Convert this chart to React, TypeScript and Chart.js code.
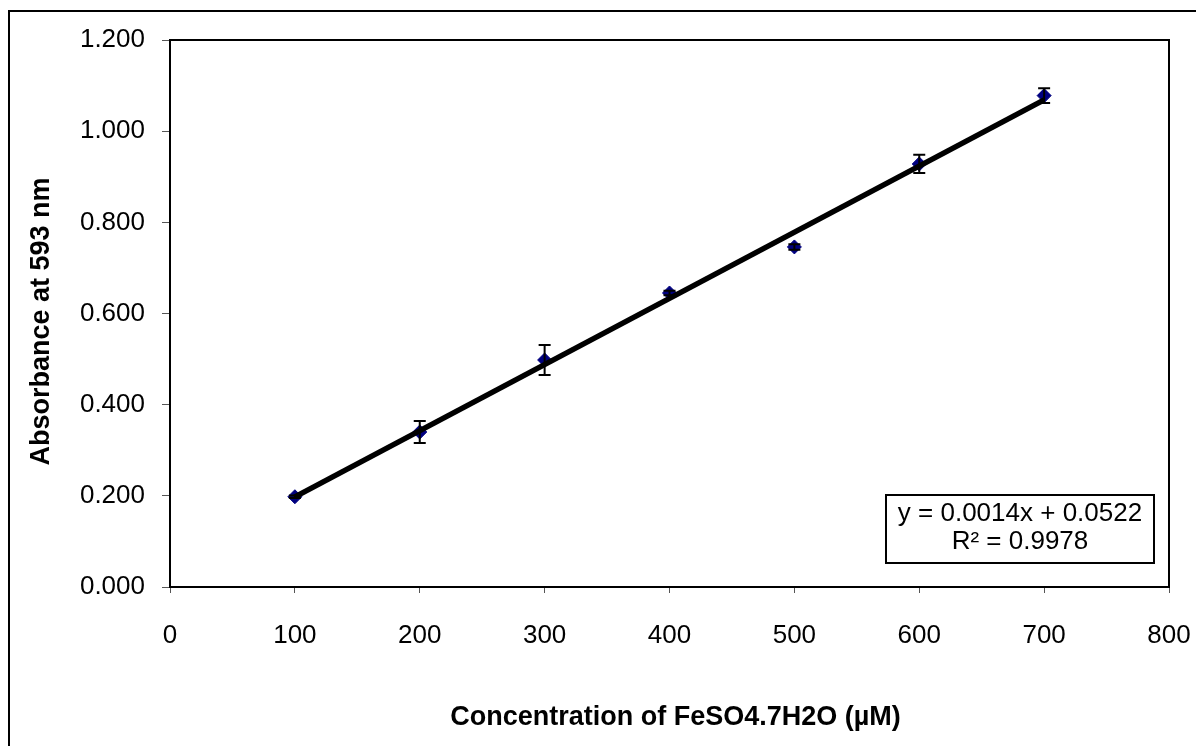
import React, { useEffect, useRef } from "react";
import { Chart, registerables } from "chart.js";

Chart.register(...registerables);

const concentrations = [100, 200, 300, 400, 500, 600, 700];
const absorbance = [0.198, 0.34, 0.498, 0.645, 0.746, 0.928, 1.078];
const errorValues = [0.003, 0.024, 0.033, 0.005, 0.006, 0.02, 0.016];
const equationLines = ["y = 0.0014x + 0.0522", "R\u00B2 = 0.9978"];
const xTitle = "Concentration of FeSO4.7H2O (\u00B5M)";
const yTitle = "Absorbance at 593 nm";

const FONT = "'Liberation Sans', Arial, Helvetica, sans-serif";

function regression(xs: number[], ys: number[]) {
  const n = xs.length;
  const mx = xs.reduce((a, b) => a + b, 0) / n;
  const my = ys.reduce((a, b) => a + b, 0) / n;
  let sxy = 0;
  let sxx = 0;
  for (let i = 0; i < n; i++) {
    sxy += (xs[i] - mx) * (ys[i] - my);
    sxx += (xs[i] - mx) * (xs[i] - mx);
  }
  const slope = sxy / sxx;
  return { slope, intercept: my - slope * mx };
}

const decorPlugin = {
  id: "decor",
  beforeDraw(chart: any) {
    const ctx = chart.ctx;
    ctx.save();
    ctx.fillStyle = "#fff";
    ctx.fillRect(0, 0, chart.width, chart.height);
    ctx.strokeStyle = "#000";
    ctx.lineWidth = 2;
    ctx.beginPath();
    ctx.moveTo(1, chart.height + 10);
    ctx.lineTo(1, 3);
    ctx.lineTo(chart.width + 10, 3);
    ctx.stroke();
    ctx.restore();
  },
  afterDatasetsDraw(chart: any) {
    const ctx = chart.ctx;
    const xs = chart.scales.x;
    const ys = chart.scales.y;
    const area = chart.chartArea;
    ctx.save();
    // error bars
    ctx.strokeStyle = "#000";
    ctx.lineWidth = 2;
    concentrations.forEach((c, i) => {
      const px = xs.getPixelForValue(c);
      const top = ys.getPixelForValue(absorbance[i] + errorValues[i]);
      const bot = ys.getPixelForValue(absorbance[i] - errorValues[i]);
      ctx.beginPath();
      ctx.moveTo(px, top);
      ctx.lineTo(px, bot);
      ctx.moveTo(px - 6, top);
      ctx.lineTo(px + 6, top);
      ctx.moveTo(px - 6, bot);
      ctx.lineTo(px + 6, bot);
      ctx.stroke();
    });
    // plot frame
    ctx.lineWidth = 2;
    ctx.strokeRect(area.left, area.top, area.right - area.left, area.bottom - area.top);
    // equation box
    const bw = 268;
    const bh = 68;
    const bx = area.right - 15 - bw;
    const by = area.bottom - 24 - bh;
    ctx.fillStyle = "#fff";
    ctx.fillRect(bx, by, bw, bh);
    ctx.lineWidth = 2;
    ctx.strokeRect(bx, by, bw, bh);
    ctx.fillStyle = "#000";
    ctx.font = `26px ${FONT}`;
    ctx.textAlign = "center";
    ctx.textBaseline = "middle";
    ctx.fillText(equationLines[0], bx + bw / 2, by + 19);
    ctx.fillText(equationLines[1], bx + bw / 2, by + 47);
    // axis titles
    ctx.font = `bold 27px ${FONT}`;
    ctx.fillText(xTitle, (area.left + area.right) / 2 + 6, 710);
    ctx.save();
    ctx.translate(34, (area.top + area.bottom) / 2 + 8);
    ctx.rotate(-Math.PI / 2);
    ctx.fillText(yTitle, 0, 0);
    ctx.restore();
    ctx.restore();
  },
};

export default function App() {
  const ref = useRef<HTMLCanvasElement | null>(null);
  useEffect(() => {
    if (!ref.current) return;
    const { slope, intercept } = regression(concentrations, absorbance);
    const x0 = concentrations[0];
    const x1 = concentrations[concentrations.length - 1];
    const chart = new Chart(ref.current, {
      type: "scatter",
      data: {
        datasets: [
          {
            type: "line",
            label: "Linear",
            data: [
              { x: x0, y: slope * x0 + intercept },
              { x: x1, y: slope * x1 + intercept },
            ],
            borderColor: "#000",
            borderWidth: 5.5,
            pointRadius: 0,
            fill: false,
            order: 0,
          } as any,
          {
            label: "Absorbance",
            data: concentrations.map((c, i) => ({ x: c, y: absorbance[i] })),
            pointStyle: "rectRot",
            pointRadius: 7,
            backgroundColor: "#000080",
            borderColor: "#000080",
            borderWidth: 1,
            order: 1,
          },
        ],
      },
      options: {
        animation: false,
        responsive: false,
        maintainAspectRatio: false,
        layout: { padding: { top: 32, right: 35, left: 0, bottom: 0 } },
        plugins: { legend: { display: false }, tooltip: { enabled: false } },
        scales: {
          x: {
            type: "linear",
            min: 0,
            max: 800,
            afterFit: (s: any) => {
              s.height = 159;
              s.paddingLeft = 0;
              s.paddingRight = 0;
            },
            ticks: {
              stepSize: 100,
              color: "#000",
              padding: 27,
              font: { size: 26, family: FONT },
              maxRotation: 0,
            },
            grid: { drawOnChartArea: false, drawTicks: true, tickLength: 6, color: "#555", lineWidth: 1 },
            border: { display: false },
          },
          y: {
            type: "linear",
            min: 0,
            max: 1.2,
            afterFit: (s: any) => {
              s.width = 162;
              s.paddingTop = 0;
              s.paddingBottom = 0;
            },
            ticks: {
              stepSize: 0.2,
              color: "#000",
              padding: 17,
              font: { size: 26, family: FONT },
              callback: (v: any) => Number(v).toFixed(3),
            },
            grid: { drawOnChartArea: false, drawTicks: true, tickLength: 8, color: "#555", lineWidth: 1 },
            border: { display: false },
          },
        },
      },
      plugins: [decorPlugin],
    });
    return () => chart.destroy();
  }, []);
  return <canvas ref={ref} width={1196} height={738} style={{ display: "block" }} />;
}
